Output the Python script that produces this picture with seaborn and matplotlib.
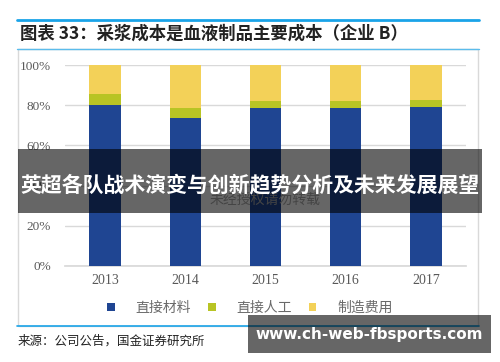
import numpy as np
import pandas as pd
import matplotlib.pyplot as plt
import seaborn as sns
from matplotlib.patches import Rectangle, Patch
from matplotlib.lines import Line2D

# -----------------------------
# Data (shares of total cost)
# -----------------------------
YEARS = ["2013", "2014", "2015", "2016", "2017"]
MATERIAL = [0.800, 0.735, 0.788, 0.788, 0.793]       # 直接材料
LABOR = [0.057, 0.053, 0.034, 0.034, 0.034]          # 直接人工
OVERHEAD = [0.143, 0.212, 0.178, 0.178, 0.173]       # 制造费用

SERIES = ["直接材料", "直接人工", "制造费用"]
COLORS = ["#1f4592", "#b8c424", "#f3d158"]
Y_TICKS = [0, 0.2, 0.4, 0.6, 0.8, 1.0]
Y_LABELS = ["0%", "20%", "40%", "60%", "80%", "100%"]

TITLE = "图表 33：采浆成本是血液制品主要成本（企业 B）"
SOURCE = "来源：公司公告，国金证券研究所"
BANNER = "英超各队战术演变与创新趋势分析及未来发展展望"
WATERMARK = "未经授权请勿转载"
SITE = "www.ch-web-fbsports.com"

W, H = 500, 362
CJK = ["Noto Sans CJK SC", "DejaVu Sans"]


def fx(x):
    return x / W


def fy(y):
    return 1 - y / H


df = pd.DataFrame({"Year": YEARS, "Material": MATERIAL, "Labor": LABOR, "Overhead": OVERHEAD})
df["top_material"] = df["Material"]
df["top_labor"] = df["Material"] + df["Labor"]
df["top_all"] = df["top_labor"] + df["Overhead"]

sns.set_theme(style="white")
plt.rcParams["font.family"] = CJK

fig = plt.figure(figsize=(W / 100, H / 100), dpi=100)
ax = fig.add_axes([fx(65), fy(266), fx(466) - fx(65), fy(65) - fy(266)])

# stacked bars: draw cumulative tops from the back to the front
for col, color in zip(["top_all", "top_labor", "top_material"], COLORS[::-1]):
    sns.barplot(data=df, x="Year", y=col, order=YEARS, color=color, saturation=1,
                width=0.39, linewidth=0, ax=ax, zorder=3)

ax.set_xlim(-0.5, len(YEARS) - 0.5)
ax.set_ylim(0, 1)
ax.set_yticks(Y_TICKS)
ax.set_yticklabels(Y_LABELS)
ax.set_xlabel("")
ax.set_ylabel("")
ax.grid(axis="y", color="#d9d9d9", linewidth=1, zorder=0)
ax.grid(axis="x", visible=False)
for s in ["top", "right", "left"]:
    ax.spines[s].set_visible(False)
ax.spines["bottom"].set_color("#d9d9d9")
ax.tick_params(axis="both", length=0, colors="#595959")
ax.tick_params(axis="y", pad=10)
ax.tick_params(axis="x", pad=6)
for lab in ax.get_yticklabels():
    lab.set_fontfamily("Liberation Serif")
    lab.set_fontsize(9.5)
for lab in ax.get_xticklabels():
    lab.set_fontfamily("Liberation Serif")
    lab.set_fontsize(10)

# legend
handles = [Patch(facecolor=c, edgecolor="none") for c in COLORS]
fig.legend(handles, SERIES, loc="center", bbox_to_anchor=(0.5, fy(308)), ncol=3,
           frameon=False, handlelength=0.55, handleheight=0.55, handletextpad=1.5,
           columnspacing=1.2, fontsize=10, labelcolor="#6a6a6a")

# frame and rules
fig.add_artist(Rectangle((fx(18), fy(326)), fx(478) - fx(18), fy(49) - fy(326),
                         transform=fig.transFigure, facecolor="none",
                         edgecolor="#d9d9d9", linewidth=1, zorder=0))
fig.add_artist(Line2D([fx(17), fx(479)], [fy(20), fy(20)], color="#1aa3e8", linewidth=2))
fig.add_artist(Line2D([fx(17), fx(479)], [fy(49), fy(49)], color="#5bbcec", linewidth=1))
fig.add_artist(Line2D([fx(17), fx(479)], [fy(326), fy(326)], color="#1aa3e8", linewidth=1.2))

fig.text(fx(20), fy(34), TITLE, fontsize=12.5, fontweight="bold", color="#222222",
         va="center", ha="left")
fig.text(fx(18), fy(341), SOURCE, fontsize=9, color="#222222", va="center", ha="left")

# watermark and overlay banners
fig.text(fx(265), fy(200), WATERMARK, fontsize=10, color="#aaaaaa", va="center",
         ha="center", zorder=5)
fig.add_artist(Rectangle((fx(18), fy(213)), fx(482) - fx(18), fy(149) - fy(213),
                         transform=fig.transFigure, facecolor="black", alpha=0.6,
                         edgecolor="none", zorder=10))
fig.text(fx(250), fy(185), BANNER, fontsize=15, fontweight="bold", color="white",
         va="center", ha="center", zorder=11)
fig.add_artist(Rectangle((fx(248), fy(353)), fx(491) - fx(248), fy(315) - fy(353),
                         transform=fig.transFigure, facecolor="black", alpha=0.6,
                         edgecolor="none", zorder=10))
fig.text(fx(369), fy(334), SITE, fontsize=11, fontweight="bold", color="white",
         family="DejaVu Sans", va="center", ha="center", zorder=11)

fig.savefig("out.png", dpi=100)
